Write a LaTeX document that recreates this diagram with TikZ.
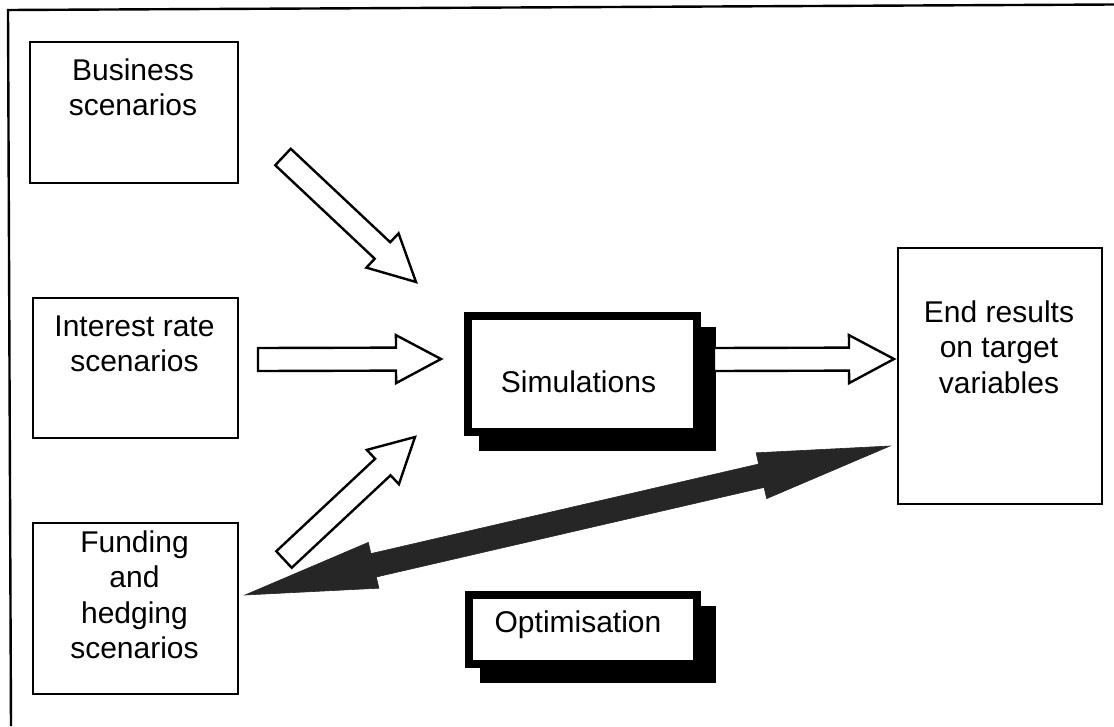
\documentclass[tikz,border=0pt]{standalone}
\usepackage{fontspec}
\setmainfont{Liberation Sans}
\usetikzlibrary{calc,shadows}
\newcommand{\sarrow}[7]{%
  \coordinate (#1h) at ($(#4)!#7!(#3)$);
  \draw[#2] ($(#3)!#5!90:(#4)$) -- ($(#1h)!#5!90:(#4)$) -- ($(#1h)!#6!90:(#4)$) -- (#4)
    -- ($(#1h)!#6!-90:(#4)$) -- ($(#1h)!#5!-90:(#4)$) -- ($(#3)!#5!-90:(#4)$) -- cycle;}
\newcommand{\darrow}[7]{%
  \coordinate (#1a) at ($(#3)!#7!(#4)$);
  \coordinate (#1b) at ($(#4)!#7!(#3)$);
  \path[#2] (#3) -- ($(#1a)!#6!90:(#4)$) -- ($(#1a)!#5!90:(#4)$)
    -- ($(#1b)!#5!-90:(#3)$) -- ($(#1b)!#6!-90:(#3)$) -- (#4)
    -- ($(#1b)!#6!90:(#3)$) -- ($(#1b)!#5!90:(#3)$)
    -- ($(#1a)!#5!-90:(#4)$) -- ($(#1a)!#6!-90:(#4)$) -- cycle;}
\begin{document}
\begin{tikzpicture}[x=1pt,y=-1pt,
  frameline/.style={line width=2.4pt},
  plainbox/.style={draw, line width=2.2pt, fill=white, anchor=north west, inner sep=0},
  shadebox/.style={draw, line width=8pt, fill=white, anchor=north west, inner sep=0,
    drop shadow={shadow xshift=15pt, shadow yshift=-15pt, fill=black, draw=black,
      line width=8pt, opacity=1}},
  txt/.style={font=\fontsize{30}{35.5}\selectfont, inner sep=0, align=center},
  outarrow/.style={draw=black, fill=white, line width=2.4pt},
  darkarrow/.style={fill=black!85, draw=black!85, line width=0.6pt}]
\useasboundingbox (0,0) rectangle (1114,726);
% outer frame (top and left edges only)
\draw[frameline] (1114,4.5) -- (8,10) -- (11,726);
% boxes
\node[plainbox, minimum width=208pt, minimum height=141pt] (bus) at (29,41) {};
\node[plainbox, minimum width=205pt, minimum height=140pt] (int) at (32,297) {};
\node[plainbox, minimum width=205pt, minimum height=171pt] (fund) at (32,522) {};
\node[plainbox, minimum width=204pt, minimum height=256pt] (end) at (897,247) {};
\node[shadebox, minimum width=229pt, minimum height=116pt] (sim) at (464,312) {};
\node[shadebox, minimum width=228pt, minimum height=69pt] (opt) at (465,591) {};
% texts
\node[txt, anchor=north] (bus-t) at (133,58.5) {Business\\scenarios};
\node[txt, anchor=north] (int-t) at (134.5,315.5) {Interest rate\\scenarios};
\node[txt, anchor=north] (fund-t) at (134.5,530.5) {Funding\\and\\hedging\\scenarios};
\node[txt, anchor=north] (end-t) at (999,300.5) {End results\\on target\\variables};
\node[txt, anchor=base] (sim-t) at (578.5,392) {Simulations};
\node[txt, anchor=base] (opt-t) at (578,632) {Optimisation};
% arrow end points
\coordinate (a1s) at (283,157);   \coordinate (a1e) at (416,282);
\coordinate (a2s) at (258,359.5); \coordinate (a2e) at (441,359);
\coordinate (a3s) at (284,559.5); \coordinate (a3e) at (415,437);
\coordinate (a4s) at (714,359.5); \coordinate (a4e) at (894,359);
\coordinate (dl) at (245,595);    \coordinate (dr) at (890,446);
% arrows
\sarrow{a1}{outarrow}{a1s}{a1e}{11.3pt}{23.5pt}{46pt}
\sarrow{a2}{outarrow}{a2s}{a2e}{11.5pt}{24pt}{45pt}
\sarrow{a3}{outarrow}{a3s}{a3e}{11.3pt}{23.5pt}{44pt}
\sarrow{a4}{outarrow}{a4s}{a4e}{11.5pt}{24pt}{45pt}
\darrow{d}{darkarrow}{dl}{dr}{12pt}{23.5pt}{132pt}
\end{tikzpicture}
\end{document}
